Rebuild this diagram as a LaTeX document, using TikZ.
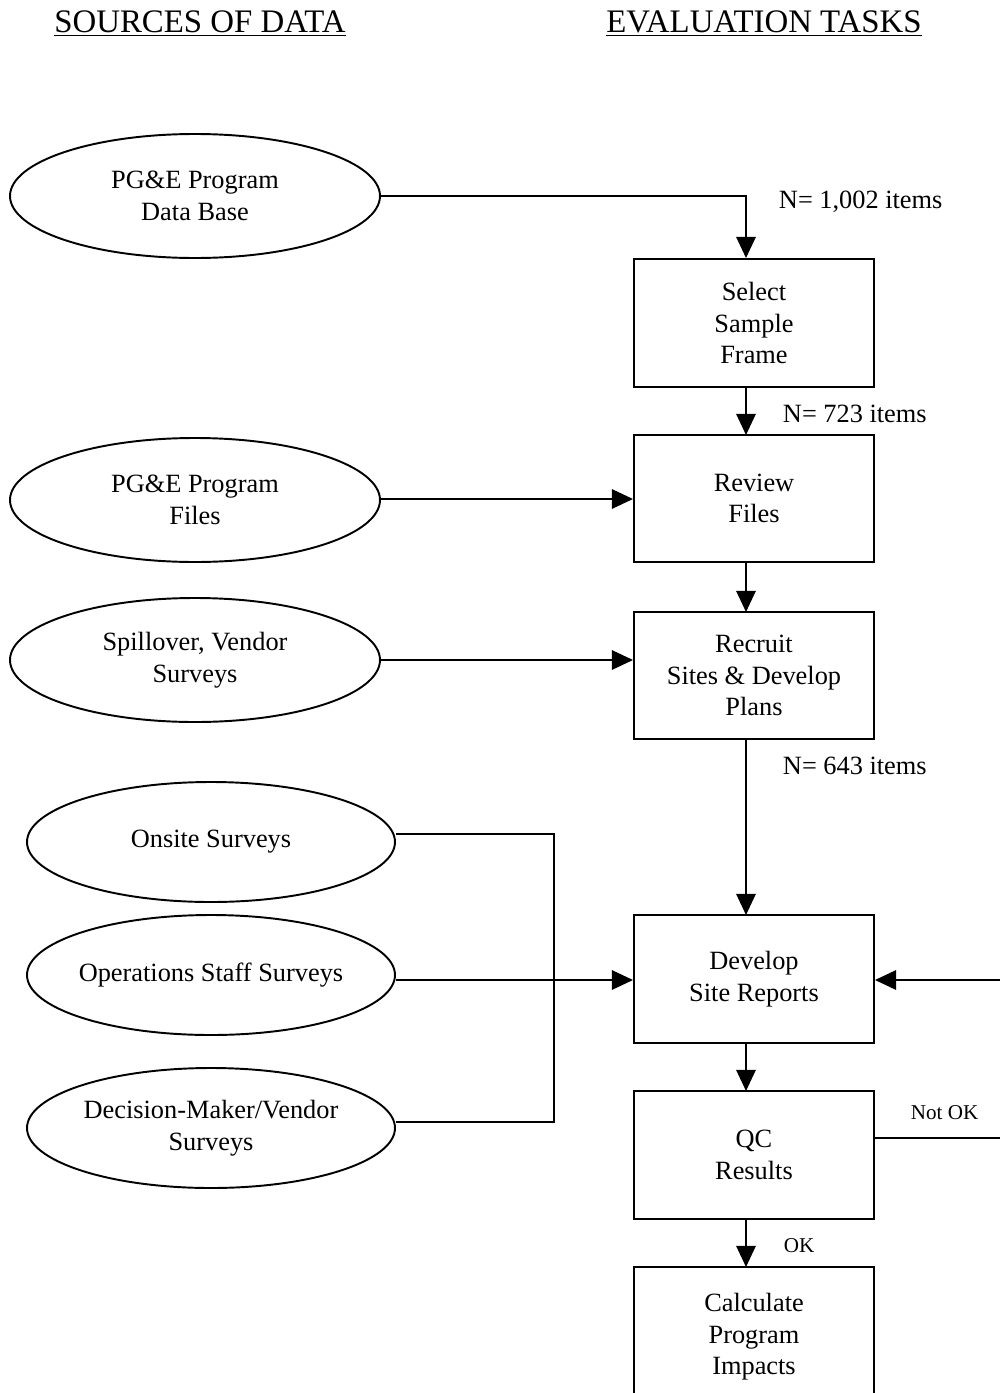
\documentclass[tikz,border=0pt]{standalone}
\usepackage{fontspec}
\setmainfont{Liberation Serif}
\usetikzlibrary{shapes.geometric,arrows.meta}
\begin{document}
\begin{tikzpicture}[x=0.02cm,y=-0.02cm,
  line width=1.1pt,
  body/.style={font=\fontsize{15}{18}\selectfont, align=center},
  taskbox/.style={draw, body, rectangle, minimum width=240*0.02cm, inner sep=0pt},
  source/.style={draw, body, ellipse, inner sep=0pt},
  lbl/.style={font=\fontsize{15}{18}\selectfont, anchor=west, inner sep=0pt},
  small/.style={font=\fontsize{12}{14}\selectfont, anchor=west, inner sep=0pt},
  head/.style={font=\fontsize{18.7}{22}\selectfont, inner sep=0pt},
  flow/.style={-{Triangle[length=12pt,width=11pt]}},
]
\useasboundingbox (0,0) rectangle (1000,1393);
\clip (0,0) rectangle (1000,1393);

% column headings
\node[head] (hsrc) at (200,24) {\underline{SOURCES OF DATA}};
\node[head] (htask) at (764,24) {\underline{EVALUATION TASKS}};

% evaluation tasks
\node[taskbox, minimum height=128*0.02cm] (select)  at (754,323) {Select\\Sample\\Frame};
\node[taskbox, minimum height=127*0.02cm] (review)  at (754,498.5) {Review\\Files};
\node[taskbox, minimum height=127*0.02cm] (recruit) at (754,675.5) {Recruit\\Sites \& Develop\\Plans};
\node[taskbox, minimum height=128*0.02cm] (develop) at (754,979) {Develop\\Site Reports};
\node[taskbox, minimum height=128*0.02cm] (qc)      at (754,1155) {QC\\Results};
\node[taskbox, minimum height=140*0.02cm] (calc)    at (754,1337) {Calculate\\Program\\Impacts};

% data sources
\node[source, minimum width=370*0.02cm, minimum height=124*0.02cm] (pgedb)    at (195,196) {PG\&E Program\\Data Base};
\node[source, minimum width=370*0.02cm, minimum height=124*0.02cm] (pgefiles) at (195,500) {PG\&E Program\\Files};
\node[source, minimum width=370*0.02cm, minimum height=124*0.02cm] (spill)    at (195,660) {Spillover, Vendor\\Surveys};
\node[source, minimum width=368*0.02cm, minimum height=120*0.02cm] (onsite)   at (211,842) {Onsite Surveys};
\node[source, minimum width=368*0.02cm, minimum height=120*0.02cm, inner xsep=-20pt] (ops) at (211,975) {Operations Staff Surveys};
\node[source, minimum width=368*0.02cm, minimum height=120*0.02cm] (decision) at (211,1128) {Decision-Maker/Vendor\\Surveys};

% counts and outcomes
\node[lbl] (n1) at (778,202) {N= 1,002 items};
\node[lbl] (n2) at (782,414) {N= 723 items};
\node[lbl] (n3) at (782,766) {N= 643 items};
\node[small] (notok) at (910,1113) {Not OK};
\node[small] (ok) at (783,1246) {OK};

% connectors
\coordinate (a1) at (746,196);
\draw[flow] (pgedb.east) -- (a1) -- (a1 |- select.north);
\draw[flow] (746,387) -- (746,435);
\draw[flow] (pgefiles.east |- 0,499) -- (review.west |- 0,499);
\draw[flow] (746,562) -- (746,612);
\draw[flow] (spill.east |- 0,660) -- (recruit.west |- 0,660);
\draw[flow] (746,739) -- (746,915);
\coordinate (j1) at (554,834);
\coordinate (j2) at (554,1122);
\draw (onsite.east |- j1) -- (j1) -- (j2) -- (decision.east |- j2);
\draw[flow] (ops.east |- 0,980) -- (develop.west |- 0,980);
\draw[flow] (746,1043) -- (746,1091);
\draw[flow] (746,1219) -- (746,1267);
\coordinate (loopb) at (1012,1138);
\coordinate (loopt) at (1012,980);
\draw[flow] (qc.east |- loopb) -- (loopb) -- (loopt) -- (develop.east |- loopt);
\end{tikzpicture}
\end{document}
